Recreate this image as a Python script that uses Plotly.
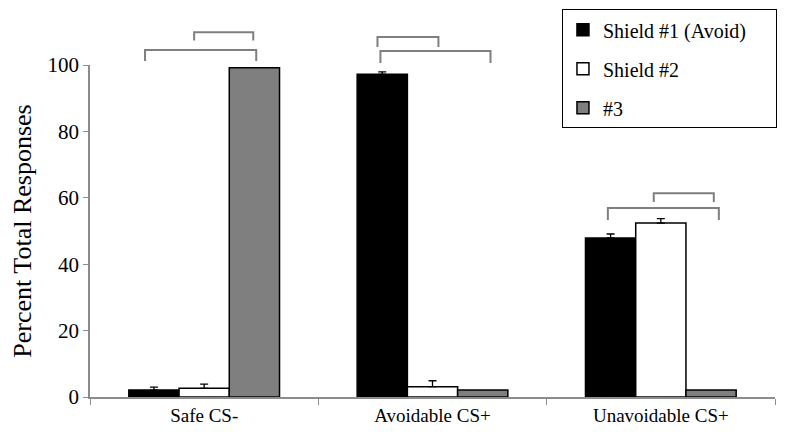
import plotly.graph_objects as go

# values
categories = ['Safe CS-', 'Avoidable CS+', 'Unavoidable CS+']
series_names = ['Shield #1 (Avoid)', 'Shield #2', '#3']
shield1 = [2.1, 97.2, 47.9]
shield2 = [2.6, 3.1, 52.4]
shield3 = [99.2, 2.1, 2.1]
shield1_err = [0.9, 0.7, 1.2]
shield2_err = [1.3, 1.8, 1.3]
shield3_err = [0, 0, 0]

# comparison brackets: (category index, left end, right end, top, bottom)
# ends are offsets from the category centre in category units
brackets = [
    (0, -0.259, 0.228, 104.5, 101.2),
    (0, -0.044, 0.215, 109.9, 107.4),
    (1, -0.241, 0.026, 108.4, 105.4),
    (1, -0.228, 0.254, 104.2, 100.6),
    (2, -0.031, 0.232, 61.4, 58.7),
    (2, -0.232, 0.254, 56.9, 53.3),
]

colors = ['#000000', '#ffffff', '#7f7f7f']
font_family = 'Liberation Serif'

fig = go.Figure()
for i, (name, vals, errs) in enumerate(zip(series_names,
                                            [shield1, shield2, shield3],
                                            [shield1_err, shield2_err, shield3_err])):
    # trailing nbsp widens the legend box to match the original
    fig.add_trace(go.Bar(
        x=categories, y=vals, name=name + '\u00a0' * 5, legendgroup=name,
        marker=dict(color=colors[i], line=dict(color='black', width=1.5)),
        error_y=dict(type='data', array=errs, arrayminus=[0] * len(errs),
                     symmetric=False, color='black', thickness=1.3, width=4,
                     visible=any(e > 0 for e in errs)),
    ))

n_cat = len(categories)
for cat, a, b, top, bot in brackets:
    # paper coords so the brackets above 100 are not clipped
    x0 = (cat + a + 0.5) / n_cat
    x1 = (cat + b + 0.5) / n_cat
    y0 = bot / 100
    y1 = top / 100
    fig.add_shape(type='path',
                  path=f'M {x0} {y0} L {x0} {y1} L {x1} {y1} L {x1} {y0}',
                  xref='paper', yref='paper', line=dict(color='#7f7f7f', width=2))

# page has an 8px body margin, so size/margins are trimmed by 8
fig.update_layout(
    width=779, height=431,
    margin=dict(l=82, r=12, t=57, b=42, autoexpand=False),
    barmode='group', bargap=0.34, bargroupgap=0,
    plot_bgcolor='white', paper_bgcolor='white',
    font=dict(family=font_family, color='black', size=19),
    showlegend=True,
    legend=dict(x=0.689, y=1.168, xanchor='left', yanchor='top',
                bordercolor='black', borderwidth=1, bgcolor='white',
                font=dict(size=20, family=font_family), tracegroupgap=10,
                itemwidth=30),
    yaxis=dict(range=[0, 100], tickvals=[0, 20, 40, 60, 80, 100],
               showgrid=False, zeroline=False, showline=True,
               linecolor='#8c8c8c', linewidth=1.5, ticks='outside',
               ticklen=5, tickcolor='#8c8c8c',
               tickfont=dict(size=21, family=font_family),
               title=dict(text='Percent Total Responses',
                          font=dict(size=26, family=font_family), standoff=8)),
    xaxis=dict(showgrid=False, showline=True, linecolor='#8c8c8c',
               linewidth=1.5, ticks='outside', tickson='boundaries',
               ticklen=6, tickcolor='#8c8c8c',
               tickfont=dict(size=19, family=font_family)),
)

fig.write_html('out.html')
